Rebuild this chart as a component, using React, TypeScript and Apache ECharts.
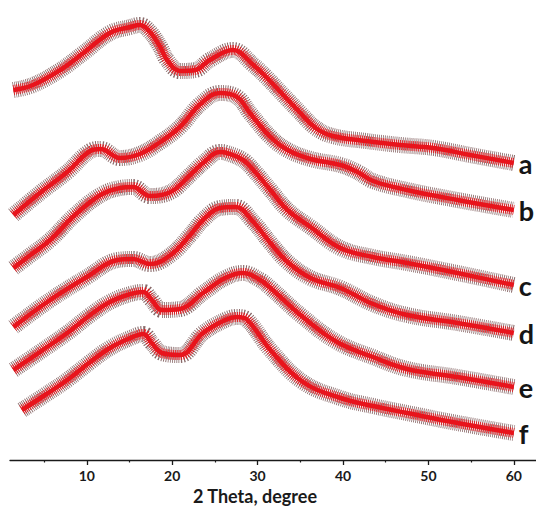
import React, { useEffect, useRef } from "react";
import * as echarts from "echarts";

// XRD patterns: [2θ (degree), stacked intensity (a.u.)]
const curveA: [number, number][] = [
  [1.4, 370], [3.7, 375], [6.9, 390], [9.6, 407], [12.7, 427], [15.1, 433], [16.2, 435],
  [17.4, 428], [18.6, 413], [19.4, 400], [20.9, 389], [22.7, 390], [24.4, 400], [27.1, 410],
  [29.5, 395], [31.0, 383], [33.0, 365], [34.9, 348], [36.8, 332], [38.8, 324], [42.7, 319],
  [46.7, 315], [50.6, 312], [54.9, 305], [60, 297],
];
const curveB: [number, number][] = [
  [1.4, 245], [4.5, 267], [7.7, 288], [10.4, 309], [11.6, 311], [13.9, 302], [16.2, 306],
  [18.6, 318], [20.9, 333], [23.3, 356], [25.6, 367], [27.6, 363], [29.1, 347], [31.5, 323],
  [33.5, 310], [36.2, 301], [39.7, 295], [41.7, 288], [43.5, 279], [47.5, 270], [53.4, 260],
  [60, 250],
];
const curveC: [number, number][] = [
  [1.4, 192], [3.4, 205], [5.7, 220], [8.6, 245], [11.6, 265], [13.9, 272], [15.4, 273],
  [17.4, 264], [19.8, 268], [22.1, 285], [23.6, 297], [25.6, 308], [26.4, 307], [28.3, 300],
  [29.5, 290], [31.5, 270], [33.5, 250], [36.2, 233], [39.7, 212], [43.5, 203], [47.5, 197],
  [53.4, 187], [60, 175],
];
const curveD: [number, number][] = [
  [1.4, 133], [5.7, 160], [10.0, 183], [13.6, 200], [15.4, 201], [17.4, 196], [19.8, 205],
  [22.1, 225], [23.6, 240], [25.6, 252], [27.4, 253], [29.5, 238], [31.5, 217], [33.5, 198],
  [36.2, 182], [39.7, 172], [43.5, 156], [47.5, 145], [53.4, 137], [60, 127],
];
const curveE: [number, number][] = [
  [1.4, 90], [4.5, 108], [7.7, 127], [10.4, 145], [12.7, 158], [15.1, 166], [16.6, 168],
  [17.6, 160], [18.8, 150], [20.9, 151], [23.6, 167], [26.2, 182], [28.3, 187], [30.3, 180],
  [31.5, 172], [35.3, 143], [39.3, 118], [43.5, 103], [47.5, 91], [53.4, 83], [60, 73],
];
const curveF: [number, number][] = [
  [2.4, 50], [5.1, 65], [7.7, 80], [10.4, 98], [12.7, 112], [15.1, 122], [16.6, 126],
  [17.6, 117], [18.8, 107], [20.9, 105], [23.6, 127], [26.2, 140], [27.6, 143], [28.8, 140],
  [31.5, 110], [35.3, 78], [39.7, 62], [43.5, 54], [47.5, 47], [53.4, 37], [60, 27],
];

const curves = [curveA, curveB, curveC, curveD, curveE, curveF];
const curveLabels = ["a", "b", "c", "d", "e", "f"];
const majorTicks = [10, 20, 30, 40, 50, 60];
const minorTicks = [5, 15, 25, 35, 45, 55];
const xTitle = "2 Theta, degree";

const FONT = "Lato, 'Open Sans', sans-serif";

export default function App() {
  const ref = useRef<HTMLDivElement>(null);

  useEffect(() => {
    if (!ref.current) return;
    const chart = echarts.init(ref.current, undefined, { renderer: "svg" });

    const series: any[] = [];
    curves.forEach((data, i) => {
      series.push({
        type: "line",
        data,
        smooth: 0.4,
        symbol: "none",
        silent: true,
        z: 1,
        lineStyle: { color: "rgba(85,40,40,0.7)", width: 16, type: [0.8, 1.2], cap: "butt" },
      });
      series.push({
        type: "line",
        data,
        smooth: 0.4,
        symbol: "none",
        silent: true,
        z: 2,
        lineStyle: { color: "rgba(228,22,28,0.9)", width: 10, type: [1, 0.9], cap: "butt" },
      });
      series.push({
        type: "line",
        data,
        smooth: 0.4,
        symbol: "none",
        silent: true,
        z: 3,
        lineStyle: { color: "#e8141c", width: 4.5 },
        endLabel: {
          show: true,
          formatter: () => curveLabels[i],
          distance: 5,
          fontSize: 27,
          fontWeight: "bold",
          color: "#151515",
          fontFamily: FONT,
        },
      });
    });

    chart.setOption({
      animation: false,
      backgroundColor: "#ffffff",
      grid: { left: 10, right: 0, top: 0, bottom: 46, containLabel: false },
      xAxis: [
        {
          type: "value",
          min: 1,
          max: 62.6,
          position: "bottom",
          axisLine: { show: true, onZero: false, lineStyle: { color: "#1a1a1a", width: 1.3 } },
          axisTick: {
            show: true,
            customValues: majorTicks,
            length: 5,
            lineStyle: { color: "#1a1a1a", width: 1.3 },
          },
          axisLabel: {
            show: true,
            customValues: majorTicks,
            margin: 8,
            fontSize: 14,
            fontWeight: "bold",
            color: "#1a1a1a",
            fontFamily: FONT,
          },
          splitLine: { show: false },
        },
        {
          type: "value",
          min: 1,
          max: 62.6,
          position: "bottom",
          axisLine: { show: false },
          axisTick: {
            show: true,
            customValues: minorTicks,
            length: 2.5,
            lineStyle: { color: "#1a1a1a", width: 1.2 },
          },
          axisLabel: { show: false },
          splitLine: { show: false },
        },
      ],
      yAxis: { type: "value", min: 0, max: 460, show: false },
      graphic: [
        {
          type: "text",
          left: 257 - 64,
          top: 487,
          style: {
            text: xTitle,
            font: `bold 18px ${FONT}`,
            fill: "#1a1a1a",
          },
        },
      ],
      series,
    });

    return () => chart.dispose();
  }, []);

  return (
    <div
      ref={ref}
      style={{ position: "fixed", left: 0, top: 0, width: 536, height: 506 }}
    />
  );
}
